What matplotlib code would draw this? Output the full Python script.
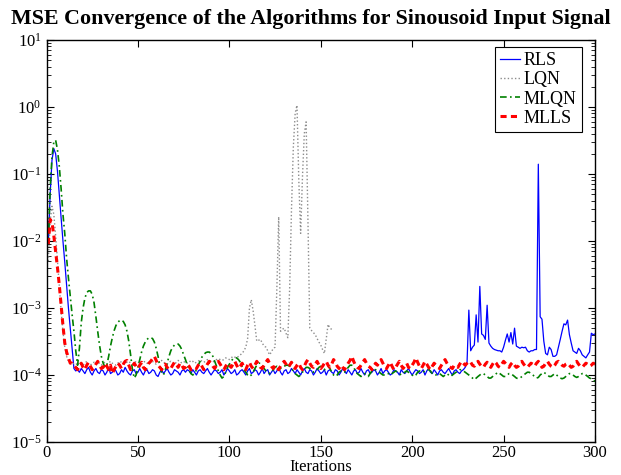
import numpy as np
import matplotlib
matplotlib.use("Agg")
import matplotlib.pyplot as plt
from matplotlib.ticker import LogLocator, LogFormatterMathtext, NullFormatter

plt.rcParams['font.family'] = ['Liberation Serif', 'DejaVu Serif']
plt.rcParams['mathtext.fontset'] = 'custom'
plt.rcParams['mathtext.rm'] = 'Liberation Serif'
plt.rcParams['mathtext.it'] = 'Liberation Serif:italic'
plt.rcParams['mathtext.bf'] = 'Liberation Serif:bold'

UNIT = 1e-4  # all series below are given in units of 1e-4

title = "MSE Convergence of the Algorithms for Sinousoid Input Signal"
xlabel = "Iterations"
labels = ["RLS", "LQN", "MLQN", "MLLS"]
xticks = [0, 50, 100, 150, 200, 250, 300]

rls = [94, 500, 1600, 2400, 2000, 1100, 480, 220, 100, 48, 22, 10, 5, 2.4, 1.25,
       1.15, 1.2, 1.1, 1.25, 1.15, 1.05, 1.2, 1.3, 1.1, 1.0, 1.15, 1.25, 1.1, 1.05, 1.2, 1.15, 1.0, 1.1, 1.3, 1.05,
       1.1, 1.25, 1.15, 1.0, 1.05, 1.2, 1.1, 1.3, 1.15, 1.05, 1.0, 1.15, 1.2, 1.05, 1.1, 1.25, 1.1, 1.0, 1.15, 1.2,
       1.05, 1.1, 1.2, 1.15, 1.0, 0.95, 1.1, 1.2, 1.05, 1.15, 1.25, 1.1, 1.0, 1.05, 1.2, 1.15, 1.1, 1.0, 1.15, 1.2,
       1.1, 1.2, 1.15, 1.05, 1.2, 1.1, 1.0, 1.15, 1.2, 1.1, 1.05, 1.15, 1.25, 1.1, 1.0, 1.1, 1.2, 1.15, 1.05, 1.1,
       1.2, 1.0, 1.1, 1.25, 1.15, 1.05, 1.1, 1.2, 1.0, 1.05, 1.15, 1.2, 1.1, 1.0, 1.15, 1.25, 1.05, 1.1, 1.2, 1.15,
       1.0, 1.1, 1.25, 1.05, 1.15, 1.2, 1.0, 1.1, 1.2, 1.05, 1.15, 1.3, 1.1, 1.0, 1.15, 1.2, 1.05, 1.1, 1.25, 1.15,
       1.05, 1.2, 1.1, 1.0, 1.15, 1.25, 1.1, 1.05, 1.2, 1.15, 1.0, 1.1, 1.25, 1.15, 1.05, 1.1, 1.2, 1.0, 1.15, 1.2,
       1.1, 1.05, 1.2, 1.15, 1.0, 1.1, 1.25, 1.15, 1.05, 1.2, 1.1, 1.0, 1.15, 1.2, 1.05, 1.1, 1.25, 1.1, 1.0, 1.15,
       1.2, 1.05, 1.1, 1.2, 1.15, 1.0, 1.1, 1.25, 1.05, 1.15, 1.2, 1.1, 1.0, 1.05, 1.2, 1.15, 1.1, 1.0, 1.2, 1.1,
       1.05, 1.15, 1.25, 1.1, 1.0, 1.1, 1.2, 1.15, 1.05, 1.1, 1.2, 1.0, 1.15, 1.25, 1.1, 1.05, 1.2, 1.1, 1.0, 1.15,
       1.2, 1.1, 1.05, 1.15, 1.25, 1.1, 1.0, 1.15, 1.2, 1.1, 1.05, 1.15, 1.2,
       1.3, 1.5, 9.3, 2.3, 2.6, 2.8, 7.9, 3.1, 21, 4.1, 3.9, 3.4, 11, 3.0, 2.7, 2.5, 2.4, 2.35, 2.3, 2.3,
       2.2, 2.6, 3.3, 4.1, 3.1, 4.3, 2.9, 5.0, 2.7, 2.6, 2.5, 2.6, 2.55, 2.6, 2.3, 2.2, 2.3, 2.3, 2.4, 2.4,
       1400, 7.4, 6.8, 3.2, 2.1, 2.0, 2.6, 2.4, 1.9, 1.9, 2.0, 2.6, 3.4, 4.5, 5.8, 5.6, 6.6, 4.0, 3.0, 2.3,
       2.2, 2.1, 2.5, 2.3, 2.0, 1.9, 1.8, 2.0, 2.2, 4.2, 4.0, 4.1]

lqn = [50, 200, 330, 250, 120, 50, 20, 9, 4.5, 2.6, 1.9, 1.6, 1.5, 1.45, 1.5,
       1.5, 1.4, 1.55, 1.45, 1.4, 1.5, 1.6, 1.45, 1.4, 1.5, 1.55, 1.5, 1.6, 1.45, 1.4, 1.5, 1.55, 1.45, 1.5, 1.6,
       1.5, 1.45, 1.4, 1.5, 1.6, 1.55, 1.45, 1.5, 1.55, 1.6, 1.5, 1.45, 1.5, 1.6, 1.55, 1.5, 1.45, 1.55, 1.6, 1.5,
       1.45, 1.55, 1.6, 1.5, 1.45, 1.5, 1.6, 1.65, 1.55, 1.5, 1.45, 1.55, 1.6, 1.5, 1.45, 1.55, 1.65, 1.6, 1.5, 1.55,
       1.6, 1.5, 1.55, 1.65, 1.6, 1.5, 1.55, 1.6, 1.7, 1.6, 1.55, 1.6, 1.7, 1.65, 1.6, 1.55, 1.65, 1.7, 1.75, 1.7,
       1.65, 1.7, 1.8, 1.75, 1.7, 1.8, 1.9, 1.85, 1.8, 1.9, 2.0, 2.1, 2.3,
       2.6, 3.5, 10, 13.3, 9.1, 5.5, 3.2, 3.3, 3.4, 3.0, 2.7, 2.6, 2.3, 2.0, 2.2, 2.5, 2.6, 20, 230, 4.5,
       4.8, 5.0, 4.2, 3.6, 20, 300, 2500, 8000, 10600, 800, 130, 900, 4000, 6000, 200, 5.0, 4.6, 4.3, 4.0, 3.5,
       3.1, 2.8, 2.4, 2.1, 3.5, 5.7, 5.0, 4.8]

mlqn = [90, 600, 1800, 3000, 3200, 2300, 1300, 600, 250, 128, 55, 28, 15, 8, 4.5, 2.3, 1.4, 2.5, 6, 10,
        14, 17, 18, 18, 16, 12, 7.5, 4.5, 2.8, 1.9, 1.5, 1.3,
        1.4, 1.9, 2.7, 3.6, 4.6, 5.5, 6.1, 6.5, 6.6, 6.3, 5.6, 4.5, 3.2, 2.0, 1.2, 0.9,
        1.0, 1.3, 1.7, 2.2, 2.7, 3.1, 3.4, 3.6, 3.6, 3.5, 3.1, 2.5, 1.9, 1.4, 1.1, 1.0,
        1.2, 1.5, 1.9, 2.3, 2.6, 2.8, 2.9, 2.9, 2.7, 2.4, 2.0, 1.7, 1.4, 1.2, 1.05, 1.0,
        1.05, 1.2, 1.4, 1.6, 1.85, 2.0, 2.15, 2.2, 2.2, 2.1, 1.9, 1.6, 1.35, 1.15, 1.0, 0.9,
        0.95, 1.1, 1.3, 1.45, 1.6, 1.75, 1.8, 1.8, 1.7, 1.55, 1.35, 1.2, 1.1, 1.0, 0.95, 1.0,
        1.1, 1.25, 1.4, 1.5, 1.5, 1.4, 1.25, 1.15, 1.1, 1.05, 1.1, 1.2, 1.3, 1.35, 1.3, 1.25, 1.3, 1.35, 1.4, 1.4,
        1.35, 1.25, 1.15, 1.05, 1.0, 0.95, 1.0, 1.1, 1.2, 1.3, 1.3, 1.25, 1.15, 1.1, 1.15, 1.2, 1.3, 1.35, 1.3, 1.2,
        1.3, 1.35, 1.25, 1.1, 1.0, 0.95, 1.0, 1.1,
        1.15, 1.1, 1.1, 1.2, 1.3, 1.4, 1.4, 1.3, 1.15, 1.05, 1.0, 0.95, 1.0, 1.05, 1.0, 0.95, 1.05, 1.15, 1.2, 1.2,
        1.15, 1.1, 1.05, 1.0, 1.0, 1.05, 1.05, 1.0, 1.05, 1.1, 1.15, 1.1, 1.05, 1.0, 1.05, 1.1, 1.15, 1.1, 1.05, 1.0,
        0.95, 1.0, 1.1, 1.15, 1.1, 1.1, 1.15, 1.2, 1.2, 1.15, 1.05, 1.0, 1.0, 1.05, 1.05, 1.0, 0.95, 1.0, 1.05, 1.0,
        0.95, 1.0, 1.05, 1.1, 1.15, 1.2, 1.2, 1.15,
        1.1, 1.05, 1.0, 0.95, 0.9, 0.85, 0.9, 0.95, 1.0, 1.05, 1.05, 1.0, 0.95, 0.9, 0.9, 0.95, 1.0, 1.05, 1.1, 1.05,
        1.0, 0.95, 0.95, 1.0, 1.05, 1.05, 1.0, 0.95, 0.9, 0.88, 0.9, 0.95, 1.0, 1.05, 1.1, 1.1, 1.05, 1.0, 0.95, 0.9,
        0.92, 1.0, 1.05, 1.1, 1.05, 1.0, 0.95, 0.95, 1.0, 1.05, 1.0, 0.95, 0.9, 0.88, 0.9, 0.95, 1.0, 1.05, 1.05, 1.0,
        0.95, 0.92, 0.95, 1.0, 1.05, 1.05, 1.0, 0.95, 0.9, 0.88, 0.85, 0.8]

mlls = [90, 210, 190, 120, 70, 40, 22, 11, 5.5, 3.0, 2.2, 1.8, 1.5, 1.5, 1.4,
        1.3, 1.2, 1.35, 1.5, 1.3, 1.2, 1.4, 1.55, 1.35, 1.2, 1.3, 1.45, 1.6, 1.4, 1.25, 1.3, 1.5, 1.35, 1.2, 1.4,
        1.05, 1.2, 1.35, 1.5, 1.4, 1.25, 1.45, 1.6, 1.65, 1.4, 1.2, 1.3, 1.5, 1.35, 1.25, 1.4, 1.55, 1.3, 1.2, 1.35,
        1.5, 1.6, 1.75, 1.9, 1.65, 1.4, 1.3, 1.2, 1.35, 1.45, 1.3, 1.2, 1.25, 1.4, 1.55, 1.45, 1.3, 1.5, 1.4, 1.25,
        1.3, 1.45, 1.35, 1.2, 1.25, 1.3, 1.25, 1.4, 1.5, 1.35, 1.2, 1.3, 1.45, 1.6, 1.5, 1.35, 1.25, 1.4, 1.6, 1.45,
        1.3, 1.2, 1.35, 1.5, 1.4, 1.3, 1.45, 1.6, 1.4, 1.25, 1.35, 1.5, 1.3, 1.2, 1.4, 1.55, 1.35, 1.25, 1.4, 1.6,
        1.45, 1.3, 1.25, 1.4, 1.55, 1.7, 1.5, 1.35, 1.25, 1.4, 1.3, 1.2, 1.35, 1.5, 1.6, 1.45, 1.3, 1.4, 1.55, 1.35,
        1.25, 1.4, 1.5, 1.3, 1.2, 1.35, 1.55, 1.7, 1.5, 1.35, 1.3, 1.45, 1.6, 1.4, 1.25, 1.35, 1.5, 1.6, 1.4, 1.3,
        1.45, 1.7, 1.55, 1.35, 1.25, 1.4, 1.3, 1.2, 1.35, 1.5, 1.65, 1.9, 1.6, 1.4, 1.3, 1.25, 1.4, 1.55, 1.7, 1.5,
        1.35, 1.3, 1.2, 1.35, 1.5, 1.4, 1.55, 1.7, 1.5, 1.3, 1.25, 1.4, 1.55, 1.35, 1.2, 1.3, 1.45, 1.6, 1.4, 1.25,
        1.35, 1.5, 1.3, 1.25, 1.4, 1.55, 1.8, 1.55, 1.35, 1.25, 1.4, 1.6, 1.45, 1.3, 1.2, 1.35, 1.5, 1.4, 1.3, 1.25,
        1.4, 1.55, 1.7, 1.5, 1.35, 1.3, 1.25, 1.4, 1.35, 1.3, 1.45, 1.6, 1.5, 1.4, 1.5, 1.6, 1.55, 1.4, 1.35, 1.5,
        1.6, 1.45, 1.35, 1.3, 1.45, 1.55, 1.4, 1.3, 1.45, 1.6, 1.5, 1.35, 1.3, 1.45, 1.6, 1.5, 1.4, 1.3, 1.45, 1.55,
        1.4, 1.3, 1.35, 1.5, 1.6, 1.45, 1.35, 1.3, 1.4, 1.5, 1.45, 1.35, 1.5, 1.6, 1.45, 1.3, 1.35, 1.5, 1.6, 1.45,
        1.35, 1.3, 1.4, 1.55, 1.6, 1.5, 1.4, 1.35, 1.45, 1.5, 1.4, 1.3, 1.35, 1.5, 1.6, 1.45, 1.35, 1.3, 1.4, 1.5,
        1.45, 1.35, 1.4, 1.5, 1.45]

series = [rls, lqn, mlqn, mlls]
colors = ["#0000ff", "#8c8c8c", "#008000", "#ff0000"]
styles = [dict(linestyle="-", linewidth=0.9),
          dict(linestyle=(0, (1, 1.6)), linewidth=1.0),
          dict(linestyle=(0, (4, 2, 1, 2)), linewidth=1.2),
          dict(linestyle=(0, (2.0, 1.4)), linewidth=2.2)]

fig = plt.figure(figsize=(6.21, 4.75), dpi=100)
ax = fig.add_axes([46.5 / 621, 33 / 475, 548.5 / 621, 402 / 475])

for vals, lab, col, st in zip(series, labels, colors, styles):
    x = np.arange(1, len(vals) + 1)
    ax.semilogy(x, np.array(vals) * UNIT, color=col, label=lab, **st)

ax.set_xlim(0, 300)
ax.set_ylim(1e-5, 1e1)
ax.set_xticks(xticks)
ax.yaxis.set_major_locator(LogLocator(base=10, numticks=10))
ax.yaxis.set_minor_locator(LogLocator(base=10, subs=np.arange(2, 10), numticks=20))
ax.yaxis.set_major_formatter(LogFormatterMathtext())
ax.yaxis.set_minor_formatter(NullFormatter())
ax.tick_params(axis='both', which='both', direction='in', top=True, right=True, labelsize=12)
ax.tick_params(axis='both', which='major', length=5, width=0.8)
ax.tick_params(axis='both', which='minor', length=3, width=0.6)
ax.tick_params(axis='x', pad=2)
for s in ax.spines.values():
    s.set_linewidth(1.0)

fig.text(311 / 621, 1 - 19 / 475, title, fontsize=15.8, fontweight='bold',
         ha='center', va='center')
ax.set_xlabel(xlabel, fontsize=12, labelpad=-1)

leg = ax.legend(loc='upper right', bbox_to_anchor=(0.976, 0.983), borderaxespad=0,
                fontsize=13, handlelength=1.1, handletextpad=0.2, labelspacing=0.12,
                borderpad=0.3, fancybox=False, framealpha=1)
leg.get_frame().set_edgecolor('black')
leg.get_frame().set_linewidth(0.8)

fig.savefig("out.png", dpi=100)
